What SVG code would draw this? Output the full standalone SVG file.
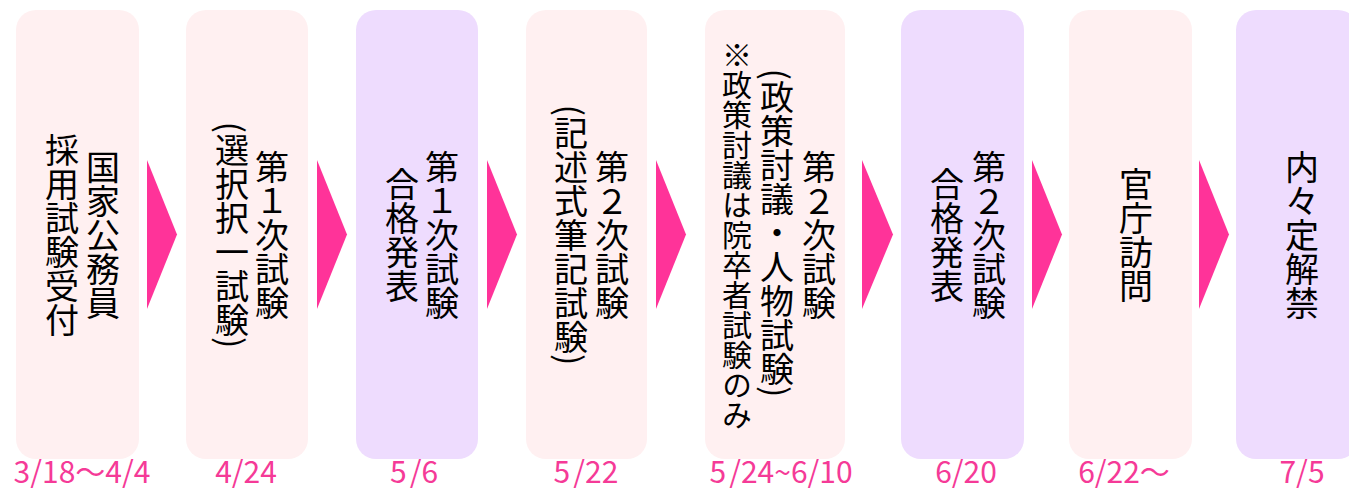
<svg xmlns="http://www.w3.org/2000/svg" width="1349" height="488" viewBox="0 0 1349 488">
<style>
.bp{fill:#FFF0F1}
.bv{fill:#EEDCFE}
.lbl{font-family:"Noto Sans CJK JP","Noto Sans CJK SC",sans-serif;font-size:34px;fill:#000;writing-mode:vertical-rl;text-anchor:middle}
.sm{font-size:30px}
.dt{font-family:"Noto Sans CJK JP","DejaVu Sans",sans-serif;font-size:30px;fill:#F53A97;text-anchor:middle}
.arr{fill:#FF3399}
</style>
<rect width="1349" height="488" fill="#FFFFFF"/>
<g id="connectors">
<polygon class="arr" points="147,160 177,234.5 147,309"/>
<polygon class="arr" points="317,160 347,234.5 317,309"/>
<polygon class="arr" points="487,160 517,234.5 487,309"/>
<polygon class="arr" points="656,160 686,234.5 656,309"/>
<polygon class="arr" points="862,160 893,234.5 862,309"/>
<polygon class="arr" points="1032,160 1062,234.5 1032,309"/>
<polygon class="arr" points="1199,160 1229,234.5 1199,309"/>
</g>
<g id="n1">
<rect class="bp" x="16" y="10" width="123" height="449" rx="20"/>
<text class="lbl" x="103" y="235">国家公務員</text>
<text class="lbl" x="62" y="235">採用試験受付</text>
<text class="dt" x="82" y="483">3/18〜4/4</text>
</g>
<g id="n2">
<rect class="bp" x="186" y="10" width="122" height="449" rx="20"/>
<text class="lbl" x="272" y="235">第１次試験</text>
<text class="lbl" x="232" y="235">(選択択一試験)</text>
<text class="dt" x="246" y="483">4/24</text>
</g>
<g id="n3">
<rect class="bv" x="356" y="10" width="122" height="449" rx="20"/>
<text class="lbl" x="442" y="235">第１次試験</text>
<text class="lbl" x="402" y="235">合格発表</text>
<text class="dt" x="414" y="483">5<tspan font-size="14"> </tspan>/6</text>
</g>
<g id="n4">
<rect class="bp" x="526" y="10" width="121" height="449" rx="20"/>
<text class="lbl" x="612" y="235">第２次試験</text>
<text class="lbl" x="571" y="235">(記述式筆記試験)</text>
<text class="dt" x="586" y="483">5<tspan font-size="14"> </tspan>/22</text>
</g>
<g id="n5">
<rect class="bp" x="705" y="10" width="140" height="449" rx="20"/>
<text class="lbl" x="819" y="235">第２次試験</text>
<text class="lbl" x="777" y="233">(政策討議・人物試験)</text>
<text class="lbl sm" x="737" y="235">※政策討議は院卒者試験のみ</text>
<text class="dt" x="781" y="483">5<tspan font-size="14"> </tspan>/24~6/10</text>
</g>
<g id="n6">
<rect class="bv" x="901" y="10" width="123" height="449" rx="20"/>
<text class="lbl" x="989" y="235">第２次試験</text>
<text class="lbl" x="947" y="235">合格発表</text>
<text class="dt" x="966" y="483">6/20</text>
</g>
<g id="n7">
<rect class="bp" x="1069" y="10" width="123" height="449" rx="20"/>
<text class="lbl" x="1136" y="235">官庁訪問</text>
<text class="dt" x="1124" y="483">6/22〜</text>
</g>
<g id="n8">
<rect class="bv" x="1236" y="10" width="122" height="449" rx="20"/>
<text class="lbl" x="1302" y="235">内々定解禁</text>
<text class="dt" x="1302" y="483">7/5</text>
</g>
</svg>
